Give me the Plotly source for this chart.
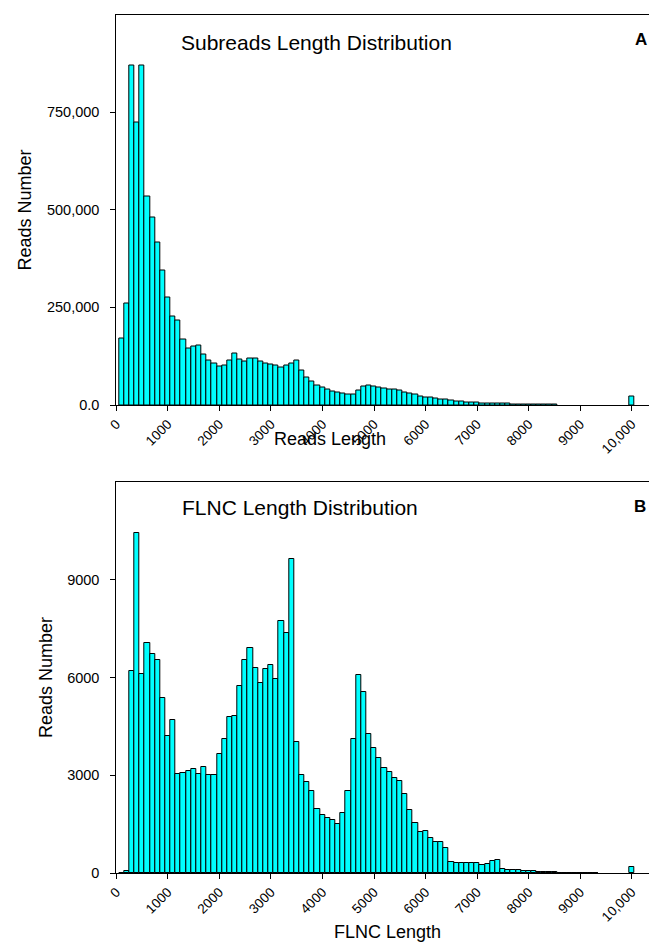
import plotly.graph_objects as go

W, H = 649, 942

# ---------------- data ----------------
sub_bins = list(range(100, 8600, 100)) + [10000]
sub_counts = [
    170000, 260000, 870000, 724000, 870000, 535000, 479000, 417000, 345000, 275000,
    226000, 217000, 168000, 145000, 150000, 153000, 129000, 115000, 106000, 99000,
    101000, 113000, 132000, 116000, 112000, 119000, 119000, 112000, 106000, 104000,
    101000, 96000, 101000, 107000, 114000, 88000, 71000, 60000, 50000, 44000,
    39000, 35000, 32000, 29000, 27000, 28000, 37000, 48500, 51000, 48000,
    45000, 42500, 40000, 38500, 36000, 33000, 30500, 26500, 23000, 19500,
    18000, 16000, 14500, 13500, 11000, 10000, 8500, 7000, 6800, 6000,
    5000, 4500, 4000, 3500, 3000, 2600, 2200, 1900, 1600, 1300,
    1100, 900, 700, 600, 400,
    21000,
]

flnc_bins = list(range(100, 9400, 100)) + [10000]
flnc_counts = [
    0, 60, 6200, 10420, 6100, 7050, 6730, 6550, 5380, 4210,
    4710, 3030, 3080, 3140, 3180, 3040, 3250, 3010, 3010, 3640,
    4100, 4790, 4830, 5730, 6530, 6920, 6280, 5820, 6260, 6370,
    5940, 7740, 7380, 9630, 4010, 3000, 2780, 2520, 1960, 1780,
    1690, 1620, 1490, 1830, 2520, 4120, 6090, 5560, 4280, 3850,
    3530, 3210, 3110, 2910, 2810, 2410, 1940, 1540, 1270, 1300,
    1060, 950, 950, 780, 330, 310, 300, 300, 300, 300,
    235, 265, 380, 410, 135, 92, 92, 82, 61, 51,
    51, 40, 30, 20, 20, 15, 12, 10, 8, 8,
    5, 8, 5,
    170,
]

x_tickvals = [0, 1000, 2000, 3000, 4000, 5000, 6000, 7000, 8000, 9000, 10000]
x_ticktext = ["0", "1000", "2000", "3000", "4000", "5000", "6000", "7000", "8000", "9000", "10,000"]

sub_y_tickvals = [0, 250000, 500000, 750000]
sub_y_ticktext = ["0.0", "250,000", "500,000", "750,000"]
flnc_y_tickvals = [0, 3000, 6000, 9000]
flnc_y_ticktext = ["0", "3000", "6000", "9000"]

FONT = "Arial, 'Liberation Sans', sans-serif"
BAR_COLOR = "#00FFFF"


def px_x(p):
    return p / W


def px_y(p):
    return 1 - p / H


fig = go.Figure()
fig.add_trace(go.Bar(
    x=sub_bins, y=sub_counts, width=[100] * len(sub_bins),
    marker=dict(color=BAR_COLOR, line=dict(color="black", width=1)),
    xaxis="x", yaxis="y", showlegend=False, hoverinfo="x+y",
))
fig.add_trace(go.Bar(
    x=flnc_bins, y=flnc_counts, width=[100] * len(flnc_bins),
    marker=dict(color=BAR_COLOR, line=dict(color="black", width=1)),
    xaxis="x2", yaxis="y2", showlegend=False, hoverinfo="x+y",
))

x_dom = [px_x(116.3), 1.0]
top_dom = [px_y(405), px_y(14.5)]
bot_dom = [px_y(873), px_y(482)]

xcommon = dict(
    range=[0, 10334], tickmode="array", tickvals=x_tickvals, ticktext=x_ticktext,
    tickangle=-45, ticks="outside", ticklen=5, tickcolor="black", tickwidth=1,
    showline=True, linecolor="black", linewidth=1, mirror=True,
    showgrid=False, zeroline=False, automargin=False,
    tickfont=dict(family=FONT, size=13.5, color="black"),
    domain=x_dom,
)
ycommon = dict(
    tickmode="array", ticks="outside", ticklen=5, tickcolor="black", tickwidth=1,
    showline=True, linecolor="black", linewidth=1, mirror=False,
    showgrid=False, zeroline=False, ticklabelstandoff=8, automargin=False,
    tickfont=dict(family=FONT, size=14.5, color="black"),
)

fig.update_layout(
    template="none",
    width=W, height=H,
    margin=dict(l=0, r=0, t=0, b=0, pad=0),
    paper_bgcolor="white", plot_bgcolor="white",
    bargap=0,
    xaxis=dict(anchor="y", **xcommon),
    yaxis=dict(anchor="x", domain=top_dom, range=[0, 1000000],
               tickvals=sub_y_tickvals, ticktext=sub_y_ticktext, **ycommon),
    xaxis2=dict(anchor="y2", **xcommon),
    yaxis2=dict(anchor="x2", domain=bot_dom, range=[0, 12000],
                tickvals=flnc_y_tickvals, ticktext=flnc_y_ticktext, **ycommon),
)

ann_font = dict(family=FONT, color="black")
annotations = [
    dict(text="Subreads Length Distribution", x=px_x(179), y=px_y(42.5),
         xanchor="left", yanchor="middle", font=dict(size=21, **ann_font)),
    dict(text="<b>A</b>", x=px_x(632.5), y=px_y(39.5),
         xanchor="left", yanchor="middle", font=dict(size=17, **ann_font)),
    dict(text="FLNC Length Distribution", x=px_x(180), y=px_y(507.5),
         xanchor="left", yanchor="middle", font=dict(size=21, **ann_font)),
    dict(text="<b>B</b>", x=px_x(632), y=px_y(506.5),
         xanchor="left", yanchor="middle", font=dict(size=17, **ann_font)),
    dict(text="Reads Number", x=px_x(24.5), y=px_y(210), textangle=-90,
         xanchor="center", yanchor="middle", font=dict(size=18, **ann_font)),
    dict(text="Reads Number", x=px_x(46), y=px_y(678), textangle=-90,
         xanchor="center", yanchor="middle", font=dict(size=18, **ann_font)),
    dict(text="Reads Length", x=px_x(330), y=px_y(439),
         xanchor="center", yanchor="middle", font=dict(size=18, **ann_font)),
    dict(text="FLNC Length", x=px_x(387.5), y=px_y(932),
         xanchor="center", yanchor="middle", font=dict(size=18, **ann_font)),
]
for a in annotations:
    a.update(xref="paper", yref="paper", showarrow=False)
fig.update_layout(annotations=annotations)

fig.write_html("out.html", config={"displayModeBar": False})
